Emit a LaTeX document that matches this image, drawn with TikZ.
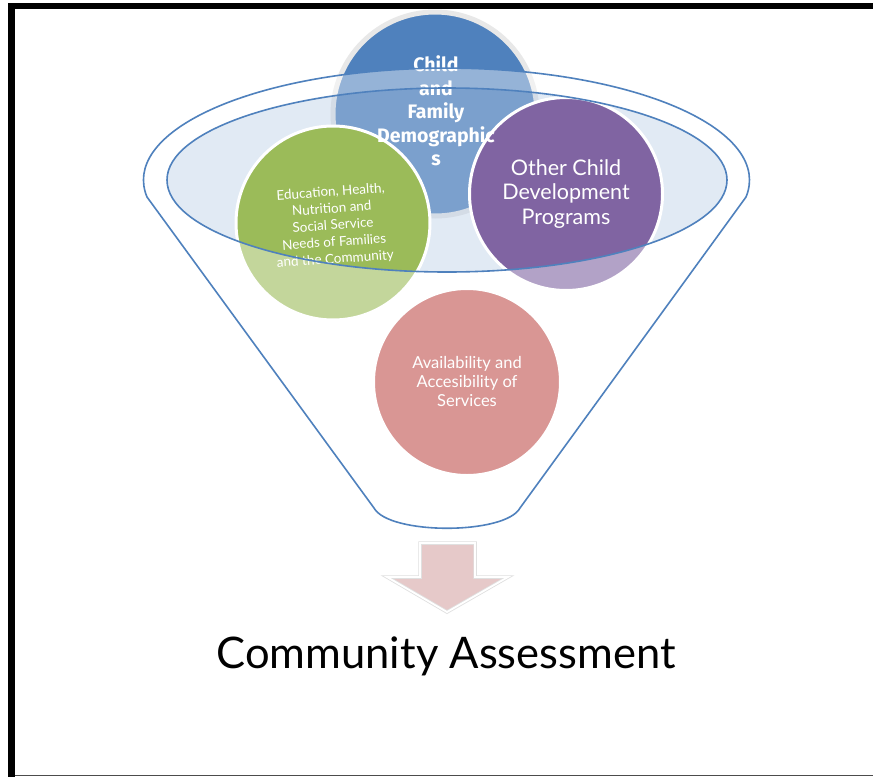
\documentclass[tikz,border=0pt]{standalone}
\usepackage{fontspec}
\setmainfont{Lato}
\newfontfamily\headfont{Fira Sans}
\begin{document}
\begin{tikzpicture}[x=1pt,y=-1pt]
\definecolor{accblue}{HTML}{4F81BD}
\definecolor{accgreen}{HTML}{9BBB59}
\definecolor{accpurple}{HTML}{8064A2}
\definecolor{accred}{HTML}{C0504D}
\definecolor{mouthfill}{HTML}{B9CDE5}
\definecolor{arrowpink}{HTML}{E6C9C9}
\tikzset{
  bubble/.style={circle, inner sep=0pt},
  bubbletext/.style={align=center, text=white, inner sep=0pt},
  rim/.style={draw=accblue, line width=1.6pt},
}
% funnel outline: upper rim, two walls and a rounded spout
\def\funnelshape{(147,197) arc[start angle=171.3, end angle=368.7, x radius=303, y radius=112]
  -- (520,508) .. controls (505,535) and (389,535) .. (374,508) -- cycle}
\useasboundingbox (0,0) rectangle (873,777);
\fill[white] (0,0) rectangle (873,777);
% page frame
\fill[black] (8,3) rectangle (873,9);
\fill[black] (8,3) rectangle (15,777);
\draw[black!70, line width=0.8pt] (15,775) -- (873,775);

% circle sitting behind the mouth of the funnel
\node[bubble, minimum size=204pt, fill=accblue, draw=black!9, line width=5pt] (demo) at (435,114) {};
% tinted mouth of the funnel
\fill[mouthfill, fill opacity=0.42] (447,180) ellipse [x radius=280, y radius=92];
% circles in front of the mouth
\node[bubble, minimum size=194pt, fill=accgreen, draw=white, line width=3pt] (needs) at (333,223) {};
\node[bubble, minimum size=193pt, fill=accpurple, draw=white, line width=3pt] (other) at (566,194) {};
\node[bubble, minimum size=187pt, fill=accred, draw=white, line width=3pt] (avail) at (467,382) {};
% translucent body of the funnel
\fill[white, fill opacity=0.4, even odd rule] \funnelshape (447,180) ellipse [x radius=280, y radius=92];

% labels
\node[bubbletext, font=\headfont\bfseries\fontsize{19.5}{23.6}\selectfont] (demo-t) at (436,111) {Child\\and\\Family\\Demographic\\s};
\node[bubbletext, font=\fontsize{21.5}{24.5}\selectfont] (other-t) at (566,194) {Other Child\\Development\\Programs};
\node[bubbletext, rotate=4, font=\fontsize{13.5}{16.8}\selectfont] (needs-t) at (333,226) {Education, Health,\\Nutrition and\\Social Service\\Needs of Families\\and the Community};
\node[bubbletext, font=\fontsize{16.5}{19}\selectfont] (avail-t) at (467,381) {Availability and\\Accesibility of\\Services};

% outlines of the funnel
\draw[rim] \funnelshape;
\draw[rim] (447,180) ellipse [x radius=280, y radius=92];

% outgoing arrow
\def\arrowshape{(420,543) -- (475,543) -- (475,577) -- (508,577) -- (447,612) -- (387,577) -- (420,577) -- cycle}
\draw[black!12, line width=3.5pt, fill=arrowpink, line join=miter] \arrowshape;
\draw[white, line width=1.8pt, line join=miter] \arrowshape;

\node[font=\fontsize{43.5}{48}\selectfont, text=black, inner sep=0pt] (result) at (446,656) {Community Assessment};
\end{tikzpicture}
\end{document}
